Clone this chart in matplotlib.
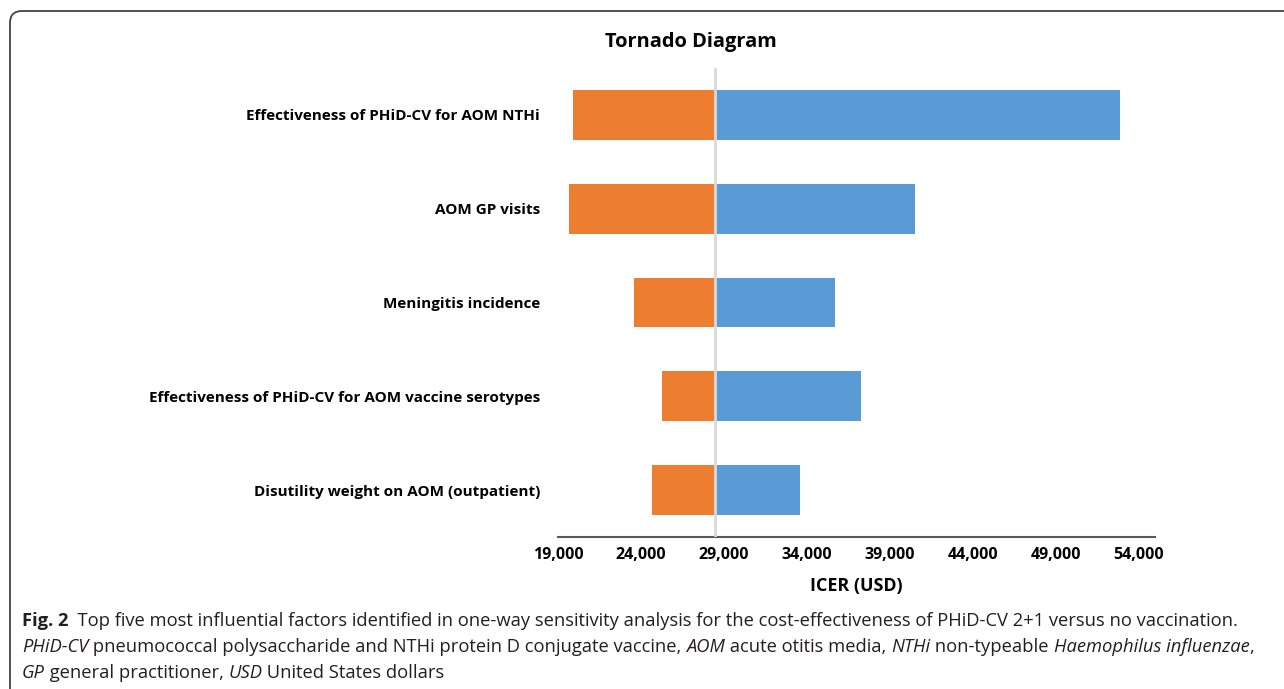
import matplotlib
matplotlib.use('Agg')
import matplotlib.pyplot as plt
import matplotlib.ticker as ticker
from matplotlib.patches import FancyBboxPatch
from matplotlib.transforms import IdentityTransform

W, H = 1284, 689

factors = [
    'Effectiveness of PHiD-CV for AOM NTHi',
    'AOM GP visits',
    'Meningitis incidence',
    'Effectiveness of PHiD-CV for AOM vaccine serotypes',
    'Disutility weight on AOM (outpatient)',
]
icer_low  = [19900, 19660, 23560, 25250, 24690]
icer_high = [52900, 40540, 35700, 37270, 33620]
base_icer = 28460
x_ticks = [19000, 24000, 29000, 34000, 39000, 44000, 49000, 54000]

ORANGE = '#ED7D31'
BLUE   = '#5B9BD5'

plt.rcParams['font.family'] = 'Open Sans'

fig = plt.figure(figsize=(W / 100, H / 100), dpi=100)
ax = fig.add_axes([558 / W, 1 - 537 / H, (1155 - 558) / W, (537 - 68) / H])

ypos = list(range(len(factors)))
for i, (lo, hi) in enumerate(zip(icer_low, icer_high)):
    ax.barh(i, base_icer - lo, left=lo, height=0.53, color=ORANGE, zorder=2)
    ax.barh(i, hi - base_icer, left=base_icer, height=0.53, color=BLUE, zorder=2)

ax.axvline(base_icer, color='#D9D9D9', lw=2, zorder=3)

ax.set_xlim(19000, 55000)
ax.set_ylim(len(factors) - 0.5, -0.5)
ax.set_xticks(x_ticks)
ax.xaxis.set_major_formatter(ticker.FuncFormatter(lambda v, p: f'{v:,.0f}'))
ax.set_yticks(ypos)
ax.set_yticklabels(factors, fontweight='bold', fontsize=11)
ax.tick_params(axis='y', length=0, pad=13)
ax.tick_params(axis='x', length=0, pad=7, labelsize=11.5)
for lbl in ax.get_xticklabels():
    lbl.set_fontweight('bold')

for s in ['top', 'right', 'left']:
    ax.spines[s].set_visible(False)
ax.spines['bottom'].set_color('#595959')
ax.spines['bottom'].set_linewidth(1.5)

ax.set_xlabel('ICER (USD)', fontsize=12.9, fontweight='bold', labelpad=10)
fig.text(691 / W, 1 - 47 / H, 'Tornado Diagram', ha='center', va='baseline',
         fontsize=14.4, fontweight='bold')

# rounded frame around the figure panel
frame = FancyBboxPatch((10, -40), 1400, H - 11 + 40,
                       boxstyle='round,pad=0,rounding_size=12',
                       transform=IdentityTransform(), fill=False,
                       edgecolor='#444444', lw=1.3, clip_on=False)
fig.patches.append(frame)

# caption with mixed styles
caption = [
    [('Fig. 2', 'normal', 'bold'),
     ('  Top five most influential factors identified in one-way sensitivity analysis '
      'for the cost-effectiveness of PHiD-CV 2+1 versus no vaccination.', 'normal', 'normal')],
    [('PHiD-CV', 'italic', 'normal'),
     (' pneumococcal polysaccharide and NTHi protein D conjugate vaccine, ', 'normal', 'normal'),
     ('AOM', 'italic', 'normal'),
     (' acute otitis media, ', 'normal', 'normal'),
     ('NTHi', 'italic', 'normal'),
     (' non-typeable ', 'normal', 'normal'),
     ('Haemophilus influenzae', 'italic', 'normal'),
     (',', 'normal', 'normal')],
    [('GP', 'italic', 'normal'),
     (' general practitioner, ', 'normal', 'normal'),
     ('USD', 'italic', 'normal'),
     (' United States dollars', 'normal', 'normal')],
]
line_y = [626, 652, 678]

renderer = fig.canvas.get_renderer()
for pieces, yy in zip(caption, line_y):
    x = 22
    for txt, style, weight in pieces:
        t = fig.text(x / W, 1 - yy / H, txt, ha='left', va='baseline',
                     fontsize=13.2, fontstyle=style, fontweight=weight,
                     color='#231F20')
        bb = t.get_window_extent(renderer)
        x += bb.width

fig.savefig('out.png', dpi=100)
